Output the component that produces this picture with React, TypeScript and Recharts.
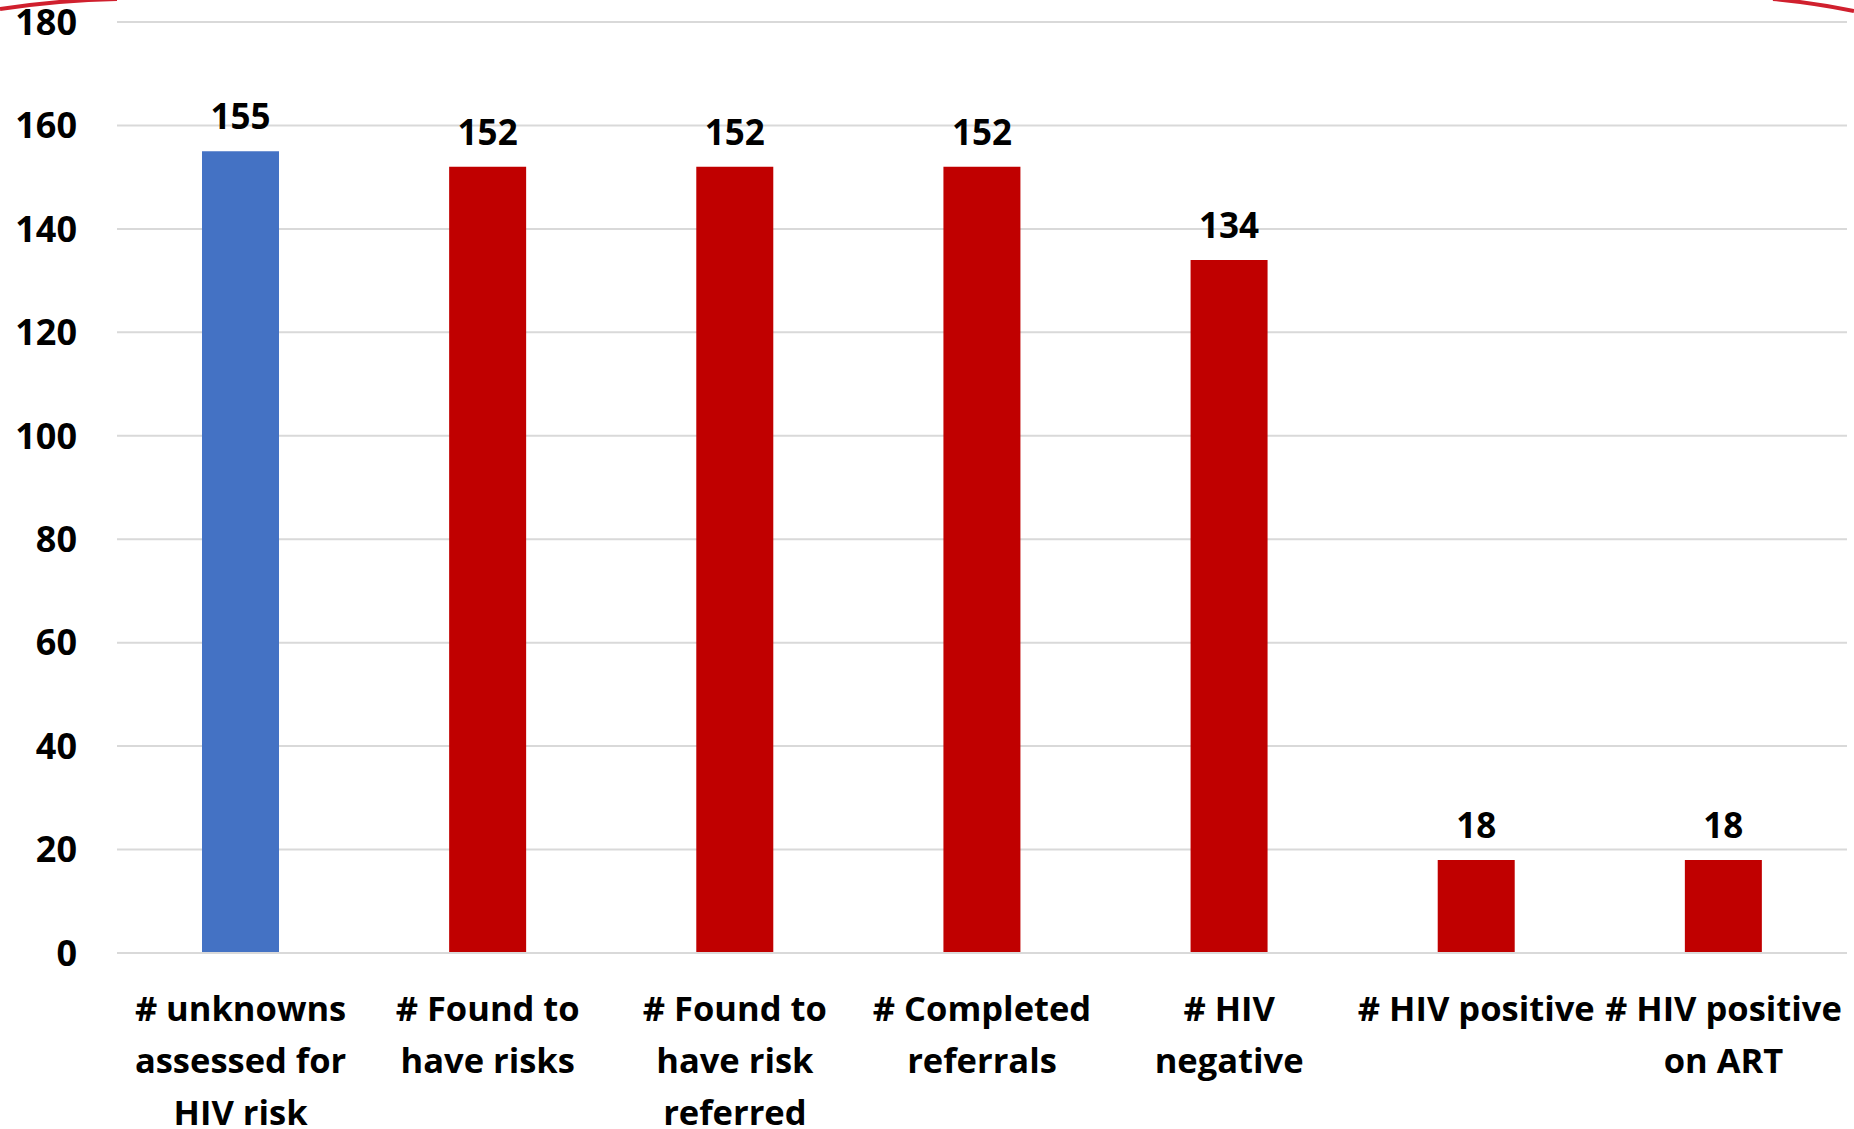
import React from "react";
import { BarChart, Bar, XAxis, YAxis, CartesianGrid, Cell, LabelList } from "recharts";

const categories = [
  "# unknowns\nassessed for\nHIV risk",
  "# Found to\nhave risks",
  "# Found to\nhave risk\nreferred",
  "# Completed\nreferrals",
  "# HIV\nnegative",
  "# HIV positive",
  "# HIV positive\non ART",
];
const values = [155, 152, 152, 152, 134, 18, 18];
const barColors = ["#4472C4", "#C00000", "#C00000", "#C00000", "#C00000", "#C00000", "#C00000"];
const yTicks = [0, 20, 40, 60, 80, 100, 120, 140, 160, 180];

const data = categories.map((c, i) => ({ name: c, value: values[i] }));

const FONT = "'Open Sans', sans-serif";

const CategoryTick = (props: any) => {
  const { x, y, payload } = props;
  const lines = String(payload.value).split("\n");
  return (
    <text x={x} y={y} textAnchor="middle" fontFamily={FONT} fontWeight={700} fontSize={34.5} fill="#000">
      {lines.map((l: string, i: number) => (
        <tspan key={i} x={x} dy={i === 0 ? 60 : 52}>
          {l}
        </tspan>
      ))}
    </text>
  );
};

export default function App() {
  return (
    <div style={{ position: "absolute", left: 0, top: 0, width: 1854, height: 1129, background: "#fff" }}>
      <BarChart width={1854} height={1129} data={data} margin={{ top: 22, right: 7, left: 0, bottom: 0 }}>
        <CartesianGrid vertical={false} stroke="#D9D9D9" strokeWidth={2} />
        <XAxis
          dataKey="name"
          height={176}
          interval={0}
          tickLine={false}
          axisLine={{ stroke: "#D9D9D9", strokeWidth: 2 }}
          tick={<CategoryTick />}
        />
        <YAxis
          width={117}
          domain={[0, 180]}
          ticks={yTicks}
          interval={0}
          tickLine={false}
          axisLine={false}
          tickMargin={34}
          tick={{ fontFamily: FONT, fontWeight: 700, fontSize: 36, fill: "#000" }}
        />
        <Bar dataKey="value" barSize={77} isAnimationActive={false}>
          {data.map((d, i) => (
            <Cell key={i} fill={barColors[i]} />
          ))}
          <LabelList
            dataKey="value"
            position="top"
            offset={22}
            style={{ fontFamily: FONT, fontWeight: 700, fontSize: 35, fill: "#000" }}
          />
        </Bar>
      </BarChart>
      <svg width={1854} height={1129} style={{ position: "absolute", left: 0, top: 0, pointerEvents: "none" }}>
        <path d="M0 9 Q 60 0 117 -1" stroke="#D0202E" strokeWidth={4} fill="none" />
        <path d="M1773 -1 Q 1815 3 1854 11" stroke="#D0202E" strokeWidth={4} fill="none" />
      </svg>
    </div>
  );
}
